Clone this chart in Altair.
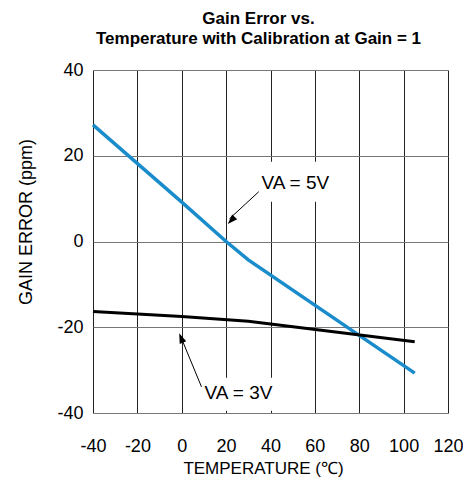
import altair as alt
import pandas as pd

# Data
temp_5v = [-40, 0, 20, 30, 105]
gain_5v = [27.2, 9.2, 0.0, -4.3, -30.7]
temp_3v = [-40, 0, 30, 105]
gain_3v = [-16.3, -17.5, -18.6, -23.4]
x_ticks = [-40, -20, 0, 20, 40, 60, 80, 100, 120]
y_ticks = [-40, -20, 0, 20, 40]

series = ["VA = 5V", "VA = 3V"]
colors = ["#1a8ccc", "#000000"]

lines = pd.DataFrame(
    {"t": temp_5v, "g": gain_5v, "s": series[0]}
)
lines = pd.concat(
    [lines, pd.DataFrame({"t": temp_3v, "g": gain_3v, "s": series[1]})],
    ignore_index=True,
)

# Annotation placement (data coordinates)
ann = pd.DataFrame({
    "label": series,
    "tx": [35.9, 10.3], "ty": [13.6, -35.3],
    "bx1": [35.1, 8.1], "bx2": [71.0, 46.0],
    "by1": [9.3, -39.5], "by2": [18.6, -31.8],
    "ax1": [34.7, 8.9], "ay1": [11.6, -33.9],
    "ax2": [21.5, -0.6], "ay2": [5.3, -22.0],
    "hx": [22.3, -0.3], "hy": [4.9, -22.5],
    "ang": [224, 338],
})

FONT = "Liberation Sans"

x = alt.X("t:Q", scale=alt.Scale(domain=[-40, 120], nice=False),
          axis=alt.Axis(values=x_ticks, title="TEMPERATURE (℃)", grid=True,
                        gridColor="#222222", gridWidth=1, ticks=False, tickSize=0,
                        domain=False, labelPadding=24, labelFontSize=18,
                        labelFlush=False, labelOverlap=False,
                        labelExpr="'' + datum.value",
                        labelFont=FONT, labelColor="black",
                        titleFont=FONT, titleFontSize=17, titleFontWeight="normal",
                        titleColor="black", titleX=170, titleY=55,
                        titleBaseline="middle", titleAlign="center"))
y = alt.Y("g:Q", scale=alt.Scale(domain=[-40, 40], nice=False),
          axis=alt.Axis(values=y_ticks, title=None, grid=True,
                        gridColor="#777777", gridWidth=1, ticks=False, tickSize=0,
                        domain=False, labelPadding=10, labelFontSize=18,
                        labelFlush=False, labelOverlap=False,
                        labelExpr="'' + datum.value",
                        labelFont=FONT, labelColor="black"))

boxes = alt.Chart(ann).mark_rect(fill="white", stroke=None).encode(
    x=alt.X("bx1:Q", scale=alt.Scale(domain=[-40, 120], nice=False)),
    x2="bx2:Q",
    y=alt.Y("by1:Q", scale=alt.Scale(domain=[-40, 40], nice=False)),
    y2="by2:Q",
)

line_chart = alt.Chart(lines).mark_line().encode(
    x=x, y=y,
    color=alt.Color("s:N", scale=alt.Scale(domain=series, range=colors), legend=None),
    strokeWidth=alt.StrokeWidth("s:N", scale=alt.Scale(domain=series, range=[3.5, 3]), legend=None),
)

shafts = alt.Chart(ann).mark_rule(color="black", strokeWidth=1).encode(
    x="ax1:Q", y="ay1:Q", x2="ax2:Q", y2="ay2:Q",
)

heads = alt.Chart(ann).mark_point(
    shape="M0,-1L0.7,1L-0.7,1Z", filled=True, color="black", opacity=1, size=100
).encode(
    x="hx:Q", y="hy:Q", angle=alt.Angle("ang:Q", scale=None),
)

texts = alt.Chart(ann).mark_text(
    align="left", baseline="middle", font=FONT, fontSize=19, color="black"
).encode(
    x="tx:Q", y="ty:Q", text="label:N",
)

# Y axis title as rotated text beside the axis
ytitle = alt.Chart(pd.DataFrame({"t": ["GAIN ERROR (ppm)"]})).mark_text(
    angle=270, align="center", baseline="middle", font=FONT, fontSize=18, color="black"
).encode(
    x=alt.value(-66), y=alt.value(152), text="t:N",
)

chart = alt.layer(boxes, line_chart, shafts, heads, texts, ytitle).properties(
    width=355,
    height=343,
    autosize=alt.AutoSizeParams(type="none"),
    padding={"left": 85, "top": 62, "right": 15, "bottom": 64},
    title=alt.Title(
        ["Gain Error vs.", "Temperature with Calibration at Gain = 1"],
        font=FONT, fontSize=17, fontWeight="bold", color="black",
        anchor="middle", frame="group", dx=-12, offset=13, lineHeight=20,
    ),
).configure_view(stroke="black", strokeWidth=2.5).configure(background="white")

chart.save("out.html", embed_options={"renderer": "svg", "actions": False})
